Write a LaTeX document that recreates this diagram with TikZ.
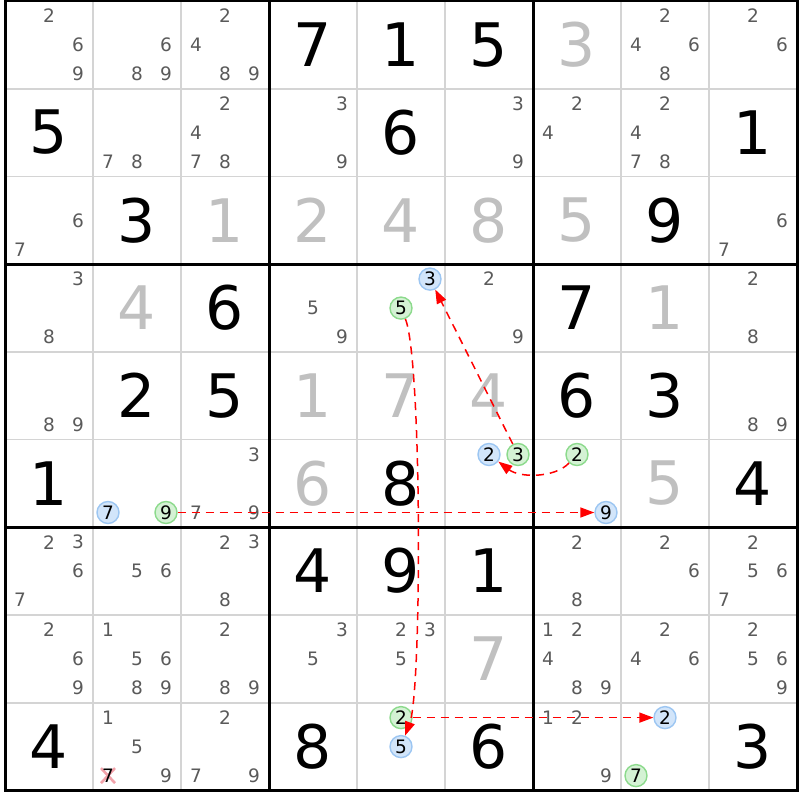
\documentclass[tikz,border=0pt]{standalone}
\usepackage{fontspec}
\setmainfont{DejaVu Sans}
\usetikzlibrary{arrows.meta}
\definecolor{pencol}{HTML}{5A5A5A}
\definecolor{solgray}{HTML}{C0C0C0}
\definecolor{gridgray}{HTML}{D4D4D4}
\definecolor{cbfill}{HTML}{D2E5FA}
\definecolor{cbdraw}{HTML}{9CC6F2}
\definecolor{cgfill}{HTML}{D4F2D4}
\definecolor{cgdraw}{HTML}{8CDA8C}
\definecolor{xpink}{HTML}{F2A2AA}
% pencil mark: [style]{row}{col}{digit}
\newcommand\pk[4][pen]{\node[#1] (p#2#3#4) at ({20+88*(#3-1)+29*mod(#4-1,3)},{16+87.7*(#2-1)+29*div(#4-1,3)}) {#4};}
\newcommand\pl[3]{\foreach \dd in {#3}{\pk{#1}{#2}{\dd}}}
% big digit: [style]{row}{col}{digit}
\newcommand\bg[4][big]{\node[#1] (g#2#3) at ({49+88*(#3-1)},{44.85+87.7*(#2-1)}) {#4};}
\begin{document}
\begin{tikzpicture}[x=1pt,y=-1pt,
  pen/.style={font=\fontsize{18.5}{18.5}\selectfont, text=pencol, inner sep=0pt},
  big/.style={font=\fontsize{60}{60}\selectfont, text=black, inner sep=0pt},
  sol/.style={big, text=solgray},
  cb/.style={circle, draw=cbdraw, fill=cbfill, line width=1.4pt, minimum size=22pt, inner sep=0pt, font=\fontsize{18.5}{18.5}\selectfont, text=black},
  cg/.style={cb, draw=cgdraw, fill=cgfill},
  thingrid/.style={draw=gridgray, line width=1.8pt},
  thickgrid/.style={draw=black, line width=3pt, line cap=rect},
  link/.style={draw=red, dash pattern=on 8pt off 6pt, line width=1.5pt, -{Triangle[length=14pt,width=10pt,fill=red]}},
  xmark/.style={draw=xpink, line width=2.6pt},
]
\useasboundingbox[fill=white] (0,0) rectangle (800,800);
% grid
\foreach \i in {0,...,9} {
  \draw[thingrid] ({5+88*\i},1) -- ({5+88*\i},790.3);
  \draw[thingrid] (5,{1+87.7*\i}) -- (797,{1+87.7*\i});
}
\foreach \i in {0,3,6,9} {
  \draw[thickgrid] ({5+88*\i},1) -- ({5+88*\i},790.3);
  \draw[thickgrid] (5,{1+87.7*\i}) -- (797,{1+87.7*\i});
}
% given digits
\bg{1}{4}{7} \bg{1}{5}{1} \bg{1}{6}{5}
\bg{2}{1}{5} \bg{2}{5}{6} \bg{2}{9}{1}
\bg{3}{2}{3} \bg{3}{8}{9}
\bg{4}{3}{6} \bg{4}{7}{7}
\bg{5}{2}{2} \bg{5}{3}{5} \bg{5}{7}{6} \bg{5}{8}{3}
\bg{6}{1}{1} \bg{6}{5}{8} \bg{6}{9}{4}
\bg{7}{4}{4} \bg{7}{5}{9} \bg{7}{6}{1}
\bg{9}{1}{4} \bg{9}{4}{8} \bg{9}{6}{6} \bg{9}{9}{3}
% solved digits
\bg[sol]{1}{7}{3}
\bg[sol]{3}{3}{1} \bg[sol]{3}{4}{2} \bg[sol]{3}{5}{4} \bg[sol]{3}{6}{8} \bg[sol]{3}{7}{5}
\bg[sol]{4}{2}{4} \bg[sol]{4}{8}{1}
\bg[sol]{5}{4}{1} \bg[sol]{5}{5}{7} \bg[sol]{5}{6}{4}
\bg[sol]{6}{4}{6} \bg[sol]{6}{8}{5}
\bg[sol]{8}{6}{7}
% pencil marks
\pl{1}{1}{2,6,9} \pl{1}{2}{6,8,9} \pl{1}{3}{2,4,8,9} \pl{1}{8}{2,4,6,8} \pl{1}{9}{2,6}
\pl{2}{2}{7,8} \pl{2}{3}{2,4,7,8} \pl{2}{4}{3,9} \pl{2}{6}{3,9} \pl{2}{7}{2,4} \pl{2}{8}{2,4,7,8}
\pl{3}{1}{6,7} \pl{3}{9}{6,7}
\pl{4}{1}{3,8} \pl{4}{4}{5,9} \pl{4}{6}{2,9} \pl{4}{9}{2,8}
\pk[cb]{4}{5}{3} \pk[cg]{4}{5}{5}
\pl{5}{1}{8,9} \pl{5}{9}{8,9}
\pk[cb]{6}{2}{7} \pk[cg]{6}{2}{9}
\pl{6}{3}{3,7,9}
\pk[cb]{6}{6}{2} \pk[cg]{6}{6}{3}
\pk[cg]{6}{7}{2} \pk[cb]{6}{7}{9}
\pl{7}{1}{2,3,6,7} \pl{7}{2}{5,6} \pl{7}{3}{2,3,8} \pl{7}{7}{2,8} \pl{7}{8}{2,6} \pl{7}{9}{2,5,6,7}
\pl{8}{1}{2,6,9} \pl{8}{2}{1,5,6,8,9} \pl{8}{3}{2,8,9} \pl{8}{4}{3,5} \pl{8}{5}{2,3,5}
\pl{8}{7}{1,2,4,8,9} \pl{8}{8}{2,4,6} \pl{8}{9}{2,5,6,9}
\pl{9}{2}{1,5,9} \pl{9}{3}{2,7,9} \pl{9}{7}{1,2,9}
\pk[cg]{9}{5}{2} \pk[cb]{9}{5}{5}
\pk[cb]{9}{8}{2} \pk[cg]{9}{8}{7}
% eliminated candidate
\coordinate (x7) at (108,775.6);
\draw[xmark] ([shift={(-7,-7.5)}]x7) -- ([shift={(7,7.5)}]x7);
\draw[xmark] ([shift={(-7,7.5)}]x7) -- ([shift={(7,-7.5)}]x7);
\node[pen, text=black] (p927) at (x7) {7};
% links
\draw[link] (p629) -- (p679);
\draw[link] (p455) .. controls (422,360) and (422,690) .. (p955);
\draw[link] (p952) -- (p982);
\draw[link] (p672) .. controls (555,478) and (520,478) .. (p662);
\draw[link] (p663) -- (p453);
\end{tikzpicture}
\end{document}
